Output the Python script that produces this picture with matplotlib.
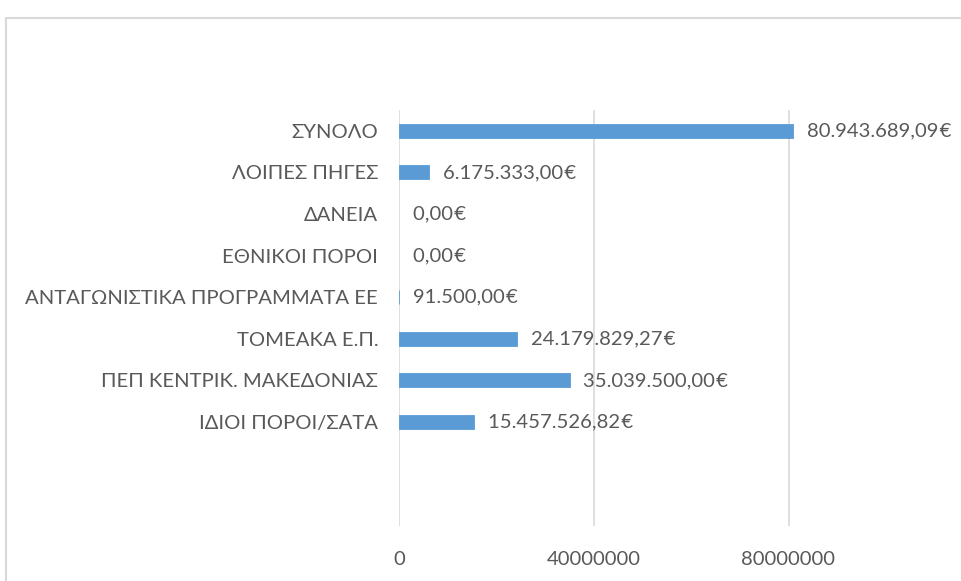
import matplotlib
matplotlib.use("Agg")
import matplotlib.pyplot as plt
from matplotlib.patches import Rectangle

plt.rcParams["font.family"] = ["Lato", "Open Sans", "DejaVu Sans"]

# bottom to top, two empty slots below the data (as in the Excel sheet)
categories = ["", "",
              "ΙΔΙΟΙ ΠΟΡΟΙ/ΣΑΤΑ",
              "ΠΕΠ ΚΕΝΤΡΙΚ. ΜΑΚΕΔΟΝΙΑΣ",
              "ΤΟΜΕΑΚΑ Ε.Π.",
              "ΑΝΤΑΓΩΝΙΣΤΙΚΑ ΠΡΟΓΡΑΜΜΑΤΑ ΕΕ",
              "ΕΘΝΙΚΟΙ ΠΟΡΟΙ",
              "ΔΑΝΕΙΑ",
              "ΛΟΙΠΕΣ ΠΗΓΕΣ",
              "ΣΥΝΟΛΟ"]
values = [None, None,
          15457526.82,
          35039500.00,
          24179829.27,
          91500.00,
          0.00,
          0.00,
          6175333.00,
          80943689.09]
x_ticks = [0, 40000000, 80000000]
x_max = 120000000

BLUE = "#5B9BD5"
GREY_TXT = "#595959"
GRID = "#D9D9D9"
FS = 14.6


def euro(v):
    s = f"{v:,.2f}".replace(",", "X").replace(".", ",").replace("X", ".")
    return s + "\u200a€"


fig = plt.figure(figsize=(9.62, 5.81), dpi=100)
# chart-area frame (cut off at right/bottom in the screenshot)
fig.patches.append(Rectangle((6 / 962, -0.2), 1.2, 1.2 - 18 / 581,
                             transform=fig.transFigure, fill=False,
                             edgecolor=GRID, lw=1.5))

ax = fig.add_axes([399 / 962, 1 - 526 / 581, 584.25 / 962, 416 / 581])

ypos = list(range(len(categories)))
for y, v in zip(ypos, values):
    if v is None:
        continue
    # thin edge so the tiny 91.500 bar still shows; none on empty bars
    ax.barh(y, v, height=0.34, color=BLUE, edgecolor=BLUE,
            lw=0.6 if v > 0 else 0, zorder=3)
    ax.annotate(euro(v), xy=(v, y), xytext=(10, 0), textcoords="offset points",
                ha="left", va="center", fontsize=FS, color=GREY_TXT)

ax.set_ylim(-0.5, len(categories) - 0.5)
ax.set_xlim(0, x_max)
ax.set_yticks(ypos)
ax.set_yticklabels(categories)
ax.set_xticks(x_ticks)
ax.set_xticklabels([str(t) for t in x_ticks])
ax.tick_params(axis="y", length=0, pad=15, labelsize=FS, labelcolor=GREY_TXT)
ax.tick_params(axis="x", length=0, pad=18, labelsize=FS, labelcolor=GREY_TXT)
ax.grid(True, axis="x", color=GRID, lw=1.2, zorder=0)
for s in ax.spines.values():
    s.set_visible(False)

fig.savefig("out.png", dpi=100)
